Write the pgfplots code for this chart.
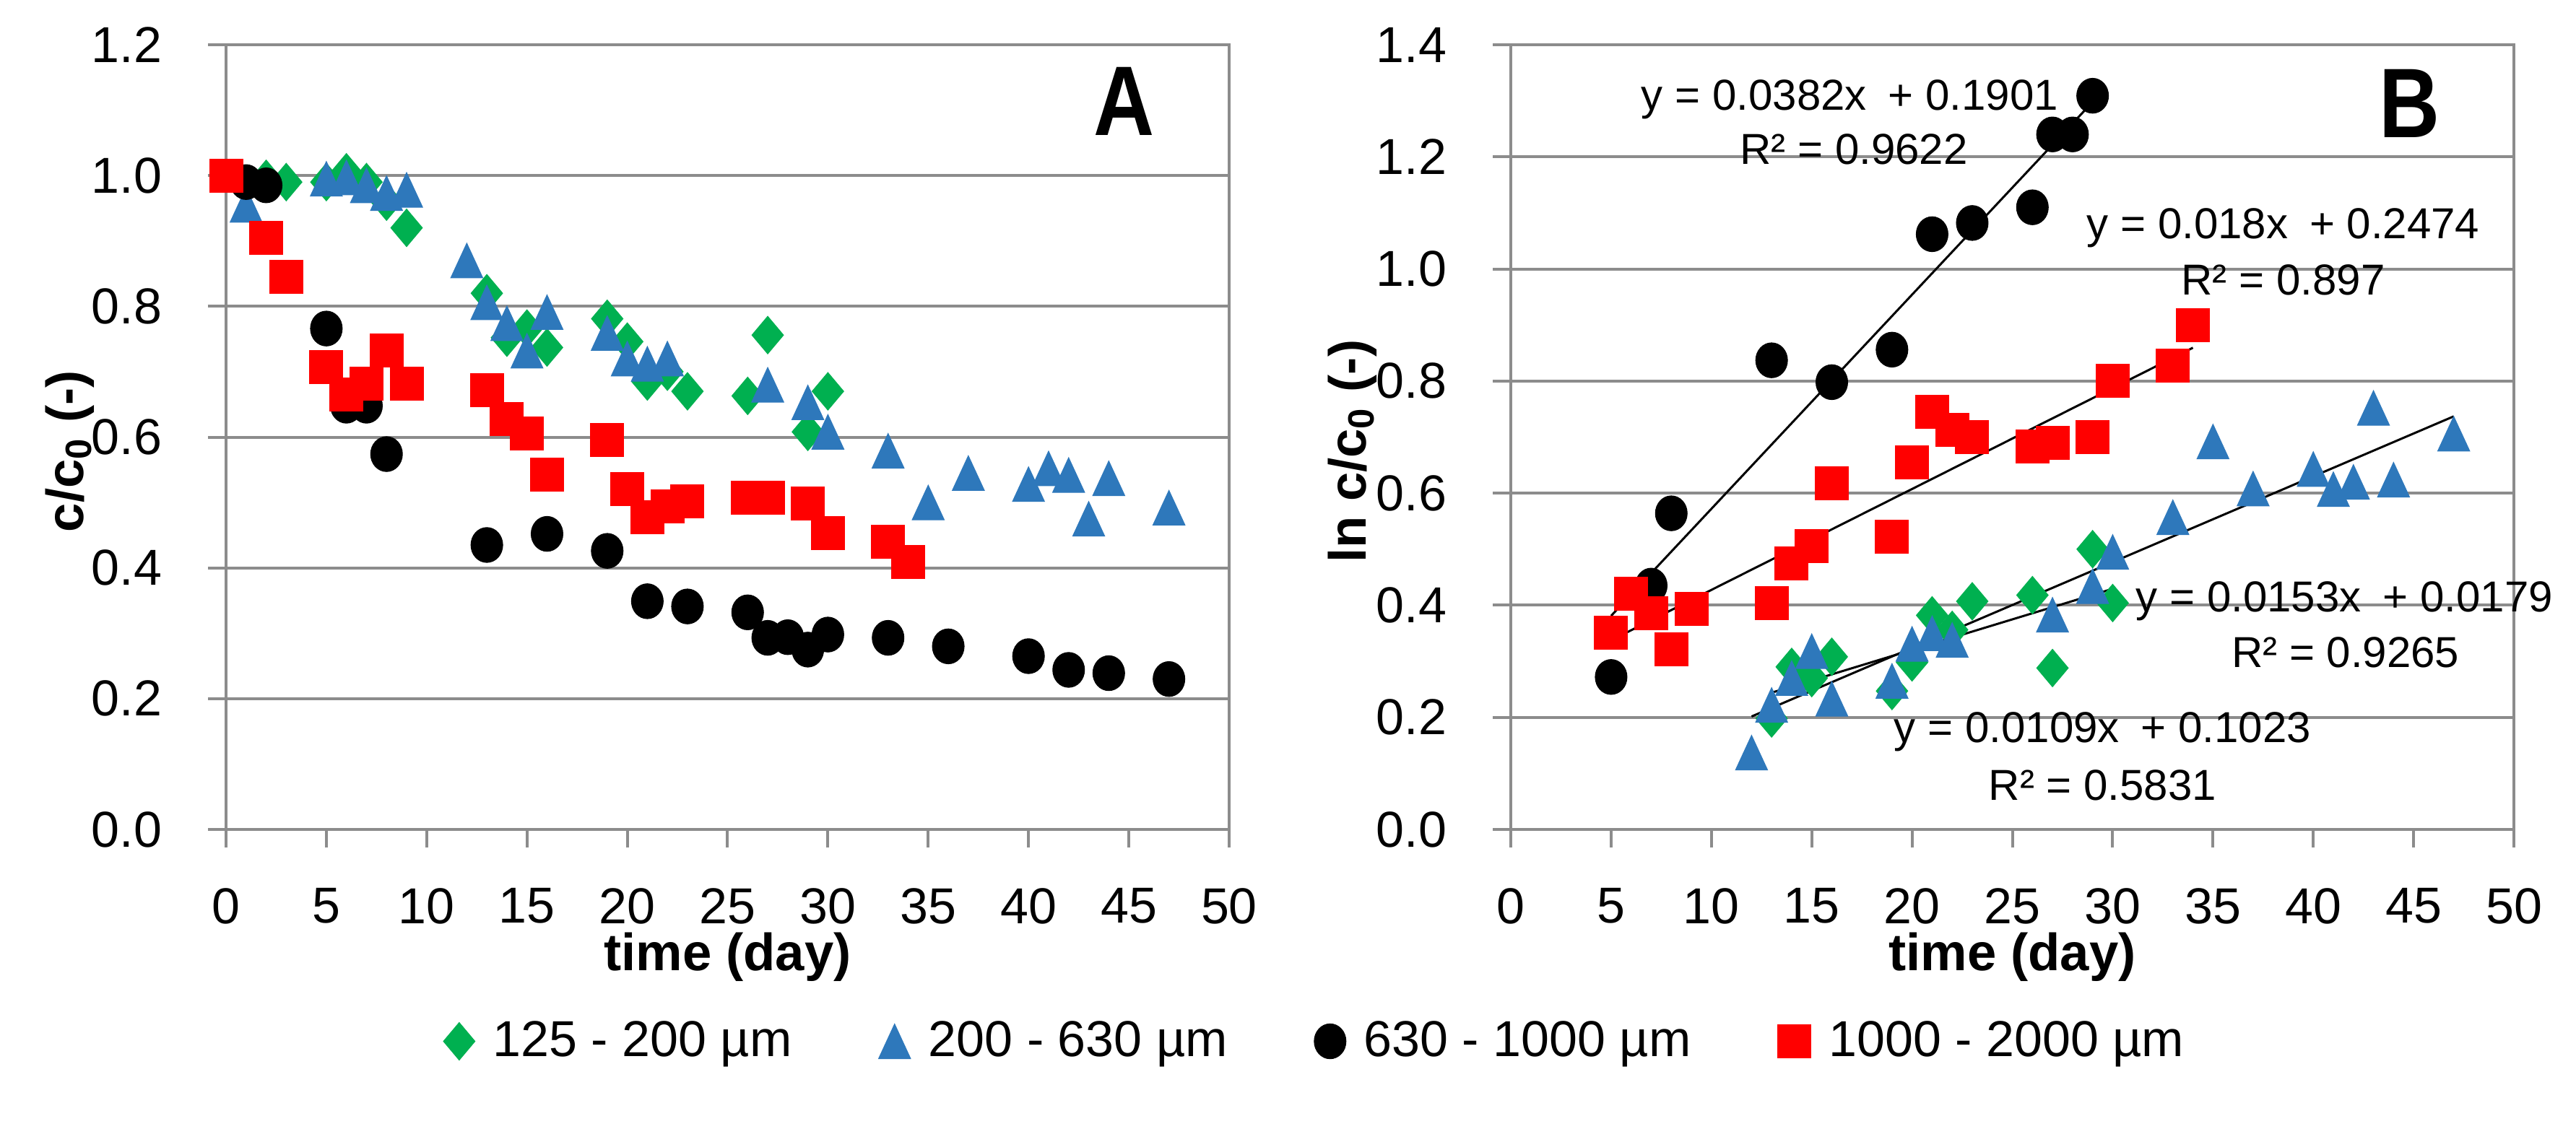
\documentclass[border=0pt]{standalone}
\usepackage{fontspec}
\setmainfont{Liberation Sans}
\usepackage{pgfplots}
\pgfplotsset{compat=1.18}
\definecolor{cgreen}{RGB}{0,176,80}
\definecolor{cblue}{RGB}{46,120,187}
\definecolor{cred}{RGB}{255,0,0}
\definecolor{cgrid}{RGB}{140,140,140}

\pgfplotsset{
  myaxis/.style={
    scale only axis, width=277.8pt, height=217.4pt,
    anchor=south west,
    xmin=0, xmax=50, xtick={0,5,10,15,20,25,30,35,40,45,50},
    axis line style={cgrid, line width=0.8pt},
    ymajorgrids, grid style={cgrid, line width=0.8pt},
    tick style={cgrid, line width=0.8pt},
    tick align=outside, major tick length=5pt,
    xtick pos=bottom, ytick pos=left,
    /pgf/number format/assume math mode=true,
    ticklabel style={font=\fontsize{14}{16}\selectfont},
    xticklabel style={anchor=center, inner sep=0pt, yshift=-16.2pt},
    yticklabel style={anchor=east, inner sep=0pt, xshift=-12.6pt,
      /pgf/number format/fixed, /pgf/number format/fixed zerofill,
      /pgf/number format/precision=1},
    label style={font=\bfseries\fontsize{14.5}{16}\selectfont},
    xlabel={time (day)},
    xlabel style={at={(axis description cs:0.5,-0.163)}, anchor=center},
    clip=false,
  },
  sgreen/.style={only marks, mark=diamond*, mark size=5.2pt,
     mark options={draw=cgreen, fill=cgreen, line width=0.2pt, xscale=1.12}},
  sblue/.style={only marks, mark=triangle*, mark size=6.4pt,
     mark options={draw=cblue, fill=cblue, line width=0.2pt, xscale=0.8, yshift=-1.6pt}},
  sblack/.style={only marks, mark=*, mark size=4.4pt,
     mark options={draw=black, fill=black, line width=0.2pt, yscale=1.1}},
  sred/.style={only marks, mark=square*, mark size=4.6pt,
     mark options={draw=cred, fill=cred, line width=0.2pt}},
  trend/.style={black, line width=0.6pt, no marks},
}

\begin{document}
\begin{tikzpicture}
\path[use as bounding box] (0,0) rectangle (713.4pt,316.2pt);

% ---------------- Panel A ----------------
\begin{axis}[myaxis, at={(62.6pt,86.4pt)},
  ymin=0, ymax=1.2, ytick={0,0.2,0.4,0.6,0.8,1.0,1.2},
  ylabel={c/c\textsubscript{0} (-)},
  ylabel style={at={(axis description cs:-0.1555,0.482)}, anchor=center},
  legend columns=4,
  legend style={draw=none, fill=none, at={(axis description cs:1.088,-0.270)},
    anchor=center, font=\fontsize{14}{16}\selectfont,
    /tikz/every odd column/.append style={column sep=3pt},
    /tikz/every even column/.append style={column sep=22pt}},
]
\addplot[sgreen] coordinates {
(2,0.995) (3,0.99) (5,0.99) (6,1.005) (7,0.99) (8,0.96) (9,0.92)
(13,0.82) (14,0.752) (15,0.766) (16,0.737) (19,0.781) (20,0.746)
(21,0.685) (22,0.70) (23,0.67) (26,0.663) (27,0.756) (29,0.608) (30,0.67)};
\addlegendentry{125 - 200 µm}
\addplot[sblue] coordinates {
(1,0.955) (5,0.995) (6,0.997) (7,0.985) (8,0.973) (9,0.978) (12,0.87)
(13,0.806) (14,0.774) (15,0.732) (16,0.791) (19,0.759) (20,0.72)
(21,0.712) (22,0.72) (27,0.68) (29,0.653) (30,0.608) (33,0.579)
(35,0.50) (37,0.545) (40,0.528) (41,0.552) (42,0.542) (43,0.475)
(44,0.537) (47,0.492)};
\addlegendentry{200 - 630 µm}
\addplot[sblack] coordinates {
(1,0.99) (2,0.985) (5,0.766) (6,0.648) (7,0.648) (8,0.574) (13,0.435)
(16,0.452) (19,0.426) (21,0.349) (23,0.341) (26,0.332) (27,0.293)
(28,0.294) (29,0.275) (30,0.298) (33,0.293) (36,0.28) (40,0.265)
(42,0.244) (44,0.239) (47,0.23)};
\addlegendentry{630 - 1000 µm}
\addplot[sred] coordinates {
(0,1.0) (2,0.905) (3,0.845) (5,0.707) (6,0.665) (7,0.682) (8,0.732)
(9,0.682) (13,0.672) (14,0.628) (15,0.606) (16,0.543) (19,0.596)
(20,0.52) (21,0.477) (22,0.494) (23,0.502) (26,0.507) (27,0.507)
(29,0.498) (30,0.453) (33,0.44) (34,0.409)};
\addlegendentry{1000 - 2000 µm}
\node[font=\bfseries\fontsize{27.4}{30}\selectfont, xscale=0.85] at (axis cs:44.75,1.113) {A};
\end{axis}

% ---------------- Panel B ----------------
\begin{axis}[myaxis, at={(418.4pt,86.4pt)},
  ymin=0, ymax=1.4, ytick={0,0.2,0.4,0.6,0.8,1.0,1.2,1.4},
  ylabel={ln c/c\textsubscript{0} (-)},
  ylabel style={at={(axis description cs:-0.158,0.482)}, anchor=center},
]
\addplot[sgreen] coordinates {
(13,0.198) (14,0.29) (15,0.27) (16,0.308) (19,0.247) (20,0.298)
(21,0.382) (22,0.356) (23,0.407) (26,0.418) (27,0.288) (29,0.50) (30,0.404)};
\addplot[sblue] coordinates {
(12,0.137) (13,0.222) (14,0.27) (15,0.318) (16,0.233) (19,0.265)
(20,0.331) (21,0.35) (22,0.338) (27,0.383) (29,0.434) (30,0.495)
(33,0.557) (35,0.692) (37,0.608) (40,0.643) (41,0.607) (42,0.62)
(43,0.752) (44,0.624) (47,0.706)};
\addplot[sblack] coordinates {
(5,0.272) (7,0.435) (8,0.564) (13,0.837) (16,0.798) (19,0.856)
(21,1.062) (23,1.082) (26,1.11) (27,1.24) (28,1.24) (29,1.309)};
\addplot[sred] coordinates {
(5,0.351) (6,0.42) (7,0.386) (8,0.321) (9,0.393) (13,0.404) (14,0.474)
(15,0.506) (16,0.617) (19,0.522) (20,0.655) (21,0.745) (22,0.713)
(23,0.70) (26,0.683) (27,0.69) (29,0.70) (30,0.80) (33,0.828) (34,0.90)};
% trend lines
\addplot[trend] coordinates {(5,0.3811) (29,1.2979)};
\addplot[trend] coordinates {(5,0.3374) (34,0.8594)};
\addplot[trend] coordinates {(12,0.2015) (47,0.737)};
\addplot[trend] coordinates {(13,0.244) (30,0.4293)};
\begin{scope}[every node/.style={font=\fontsize{12}{14}\selectfont, inner sep=0pt}]
\node at (axis cs:16.9,1.303) {y = 0.0382x\enspace+ 0.1901};
\node at (axis cs:17.1,1.214) {R² = 0.9622};
\node at (axis cs:38.5,1.073) {y = 0.018x\enspace+ 0.2474};
\node at (axis cs:38.5,0.980) {R² = 0.897};
\node at (axis cs:41.55,0.407) {y = 0.0153x\enspace+ 0.0179};
\node at (axis cs:41.6,0.316) {R² = 0.9265};
\node at (axis cs:29.5,0.1745) {y = 0.0109x\enspace+ 0.1023};
\node at (axis cs:29.5,0.079) {R² = 0.5831};
\end{scope}
\node[font=\bfseries\fontsize{27.4}{30}\selectfont, xscale=0.85] at (axis cs:44.8,1.295) {B};
\end{axis}
\end{tikzpicture}
\end{document}
